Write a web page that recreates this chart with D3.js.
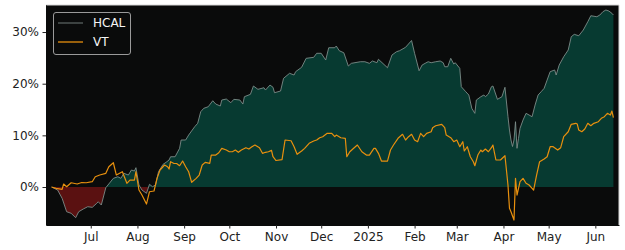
<!DOCTYPE html>
<html>
<head>
<meta charset="utf-8">
<script src="https://cdn.jsdelivr.net/npm/d3@7"></script>
<style>
  html, body { margin: 0; padding: 0; background: #ffffff; }
  svg { display: block; font-family: "DejaVu Sans", sans-serif; }
</style>
</head>
<body>
<div id="chart"></div>
<script>
const hcalDates = ["2024-06-05","2024-06-09","2024-06-12","2024-06-15","2024-06-18","2024-06-21","2024-06-23","2024-06-26","2024-06-29","2024-07-02","2024-07-05","2024-07-06","2024-07-08","2024-07-11","2024-07-16","2024-07-19","2024-07-21","2024-07-23","2024-07-26","2024-07-28","2024-07-30","2024-07-31","2024-08-02","2024-08-04","2024-08-07","2024-08-09","2024-08-11","2024-08-13","2024-08-15","2024-08-18","2024-08-20","2024-08-22","2024-08-23","2024-08-26","2024-08-29","2024-08-30","2024-09-02","2024-09-04","2024-09-08","2024-09-10","2024-09-12","2024-09-14","2024-09-17","2024-09-20","2024-09-22","2024-09-25","2024-09-26","2024-09-29","2024-10-02","2024-10-04","2024-10-08","2024-10-10","2024-10-11","2024-10-15","2024-10-17","2024-10-20","2024-10-24","2024-10-25","2024-10-28","2024-10-30","2024-10-31","2024-11-04","2024-11-06","2024-11-10","2024-11-13","2024-11-14","2024-11-18","2024-11-21","2024-11-26","2024-11-28","2024-12-01","2024-12-04","2024-12-06","2024-12-10","2024-12-11","2024-12-13","2024-12-16","2024-12-19","2024-12-21","2024-12-27","2024-12-30","2025-01-02","2025-01-04","2025-01-07","2025-01-08","2025-01-14","2025-01-17","2025-01-20","2025-01-22","2025-01-26","2025-01-30","2025-02-01","2025-02-04","2025-02-06","2025-02-08","2025-02-10","2025-02-12","2025-02-15","2025-02-18","2025-02-20","2025-02-21","2025-02-23","2025-02-25","2025-02-27","2025-02-28","2025-03-03","2025-03-04","2025-03-07","2025-03-09","2025-03-11","2025-03-13","2025-03-14","2025-03-17","2025-03-19","2025-03-20","2025-03-22","2025-03-24","2025-03-25","2025-03-28","2025-03-31","2025-04-02","2025-04-04","2025-04-05","2025-04-06","2025-04-07","2025-04-08","2025-04-09","2025-04-10","2025-04-11","2025-04-12","2025-04-14","2025-04-16","2025-04-18","2025-04-20","2025-04-22","2025-04-24","2025-04-26","2025-04-28","2025-04-30","2025-05-02","2025-05-05","2025-05-06","2025-05-08","2025-05-11","2025-05-14","2025-05-16","2025-05-18","2025-05-21","2025-05-24","2025-05-27","2025-05-29","2025-06-02","2025-06-04","2025-06-06","2025-06-08","2025-06-10","2025-06-12","2025-06-13"];
const hcalValues = [0.00,-0.58,-2.19,-4.78,-5.09,-5.94,-4.78,-4.26,-3.81,-3.93,-3.15,-2.85,-3.48,-0.13,1.68,1.99,1.68,2.65,2.32,3.29,3.10,3.74,0.39,-0.58,-1.22,0.52,0.06,0.39,2.96,4.39,4.78,5.23,5.86,5.86,7.49,9.10,9.10,10.06,11.67,12.33,14.57,15.23,15.54,16.70,16.06,15.68,16.84,17.03,16.32,16.97,16.84,16.06,17.48,17.94,19.55,18.91,19.22,18.77,19.74,19.30,18.25,18.58,21.04,22.01,21.68,22.32,23.17,24.91,25.10,25.88,25.88,24.58,26.96,26.96,27.29,26.38,25.99,23.42,23.94,24.25,24.25,23.94,24.39,24.06,24.72,23.09,25.55,26.19,26.38,27.04,28.36,25.88,22.51,23.61,23.94,24.25,24.06,24.25,24.39,24.06,23.28,23.28,24.91,23.81,24.06,22.97,19.41,18.44,17.81,15.23,14.26,16.84,17.48,17.81,17.48,18.00,19.41,19.55,16.97,17.48,19.30,13.61,11.03,9.10,7.84,9.10,12.64,7.49,9.43,11.36,12.97,14.26,13.94,13.61,15.87,17.81,18.44,19.10,20.71,22.32,22.65,21.68,23.61,25.22,26.52,29.09,29.55,29.28,30.39,31.99,33.15,32.96,33.29,33.93,34.26,34.06,33.62,33.29];

const vtDates = ["2024-06-05","2024-06-08","2024-06-12","2024-06-13","2024-06-15","2024-06-18","2024-06-22","2024-06-25","2024-06-28","2024-07-02","2024-07-04","2024-07-07","2024-07-11","2024-07-13","2024-07-16","2024-07-18","2024-07-22","2024-07-25","2024-07-27","2024-07-30","2024-07-31","2024-08-02","2024-08-04","2024-08-07","2024-08-09","2024-08-12","2024-08-14","2024-08-16","2024-08-19","2024-08-21","2024-08-22","2024-08-23","2024-08-25","2024-08-27","2024-08-29","2024-08-31","2024-09-02","2024-09-04","2024-09-06","2024-09-09","2024-09-11","2024-09-13","2024-09-15","2024-09-18","2024-09-19","2024-09-22","2024-09-24","2024-09-26","2024-09-29","2024-10-01","2024-10-03","2024-10-05","2024-10-07","2024-10-09","2024-10-12","2024-10-14","2024-10-16","2024-10-18","2024-10-21","2024-10-23","2024-10-25","2024-10-27","2024-10-29","2024-10-30","2024-11-01","2024-11-05","2024-11-07","2024-11-11","2024-11-13","2024-11-15","2024-11-18","2024-11-20","2024-11-23","2024-11-26","2024-11-28","2024-11-30","2024-12-02","2024-12-05","2024-12-08","2024-12-10","2024-12-11","2024-12-14","2024-12-17","2024-12-18","2024-12-20","2024-12-22","2024-12-25","2024-12-28","2024-12-31","2025-01-02","2025-01-05","2025-01-06","2025-01-08","2025-01-10","2025-01-14","2025-01-16","2025-01-18","2025-01-21","2025-01-24","2025-01-26","2025-01-28","2025-01-30","2025-02-01","2025-02-03","2025-02-05","2025-02-07","2025-02-09","2025-02-12","2025-02-13","2025-02-15","2025-02-19","2025-02-21","2025-02-22","2025-02-25","2025-02-27","2025-03-01","2025-03-03","2025-03-05","2025-03-06","2025-03-08","2025-03-10","2025-03-12","2025-03-13","2025-03-15","2025-03-17","2025-03-18","2025-03-20","2025-03-22","2025-03-24","2025-03-25","2025-03-27","2025-03-30","2025-04-02","2025-04-04","2025-04-05","2025-04-06","2025-04-08","2025-04-09","2025-04-10","2025-04-12","2025-04-14","2025-04-16","2025-04-18","2025-04-20","2025-04-21","2025-04-23","2025-04-25","2025-04-28","2025-04-30","2025-05-02","2025-05-04","2025-05-07","2025-05-09","2025-05-11","2025-05-14","2025-05-16","2025-05-19","2025-05-20","2025-05-21","2025-05-23","2025-05-25","2025-05-27","2025-05-29","2025-05-31","2025-06-03","2025-06-05","2025-06-07","2025-06-09","2025-06-11","2025-06-12","2025-06-13"];
const vtValues = [0.00,-0.25,-0.45,0.58,0.06,0.83,0.58,0.87,0.83,1.03,1.99,2.32,2.65,3.93,4.70,2.32,2.96,0.72,1.35,1.35,2.96,-0.58,-1.55,-3.29,-0.91,-0.77,1.68,3.29,4.26,3.93,3.48,4.90,4.59,4.55,4.12,5.03,3.93,2.96,0.91,1.68,2.32,4.26,4.78,4.59,6.19,6.19,6.64,7.49,7.16,6.83,6.83,7.16,6.72,7.16,7.61,7.35,7.80,8.13,7.61,6.52,6.72,6.83,7.10,5.86,5.13,5.32,9.10,8.96,7.80,6.33,6.97,7.49,8.46,8.90,9.10,9.54,9.74,10.39,10.39,9.74,10.06,9.54,9.43,5.86,6.83,7.35,8.13,6.83,6.19,6.19,7.49,7.49,6.52,5.03,5.03,7.16,8.13,9.43,10.20,9.10,9.74,10.20,9.10,8.77,10.39,9.74,10.39,10.70,11.48,11.86,12.14,11.48,10.06,9.54,8.77,9.10,7.80,8.77,6.97,7.80,5.86,4.90,4.12,6.19,7.16,6.83,7.35,6.83,7.61,8.13,5.23,5.23,6.06,0.39,-4.12,-4.78,-6.39,1.68,-1.55,1.03,1.68,0.72,0.39,-0.25,-0.58,2.32,4.90,5.42,5.86,7.80,7.80,7.16,7.61,9.74,10.70,12.14,12.33,12.19,11.03,10.70,11.23,12.33,11.86,12.33,12.64,13.30,13.61,14.26,13.94,14.71,13.41];

const seriesNames = ["HCAL", "VT"];
const tickDates = ["2024-07-01","2024-08-01","2024-09-01","2024-10-01","2024-11-01","2024-12-01","2025-01-01","2025-02-01","2025-03-01","2025-04-01","2025-05-01","2025-06-01"];
const tickLabels = ["Jul","Aug","Sep","Oct","Nov","Dec","2025","Feb","Mar","Apr","May","Jun"];
const yTickValues = [0, 10, 20, 30];
const xDomain = ["2024-06-01T07:00", "2025-06-16T17:00"];
const yDomain = [-7.35, 35.23];

(function () {
const W = 625, H = 250;
const mLeft = 46, mRight = 619, mTop = 5, mBottom = 225;
const parse = d3.utcParse("%Y-%m-%d");
const parseT = d3.utcParse("%Y-%m-%dT%H:%M");

const x = d3.scaleUtc().domain(xDomain.map(parseT)).range([mLeft, mRight]);
const y = d3.scaleLinear().domain(yDomain).range([mBottom, mTop]);

const hcal = hcalDates.map((d, i) => ({ date: parse(d), v: hcalValues[i] }));
const vt = vtDates.map((d, i) => ({ date: parse(d), v: vtValues[i] }));

const svg = d3.select("#chart").append("svg").attr("width", W).attr("height", H);

svg.append("rect").attr("x", mLeft).attr("y", mTop).attr("width", mRight - mLeft).attr("height", mBottom - mTop)
  .attr("fill", "#0a0b0b");

const defs = svg.append("defs");
defs.append("clipPath").attr("id", "above").append("rect")
  .attr("x", mLeft).attr("y", mTop).attr("width", mRight - mLeft).attr("height", y(0) - mTop);
defs.append("clipPath").attr("id", "below").append("rect")
  .attr("x", mLeft).attr("y", y(0)).attr("width", mRight - mLeft).attr("height", mBottom - y(0));

const area = d3.area().x(d => x(d.date)).y0(y(0)).y1(d => y(d.v));
svg.append("path").datum(hcal).attr("d", area).attr("fill", "#073a31").attr("clip-path", "url(#above)");
svg.append("path").datum(hcal).attr("d", area).attr("fill", "#5a1111").attr("clip-path", "url(#below)");

const line = d3.line().x(d => x(d.date)).y(d => y(d.v));
svg.append("path").datum(hcal).attr("d", line).attr("fill", "none")
  .attr("stroke", "#7d8c89").attr("stroke-width", 0.9);
svg.append("path").datum(vt).attr("d", line).attr("fill", "none")
  .attr("stroke", "#e8900e").attr("stroke-width", 1.2).attr("stroke-linejoin", "round");

svg.append("line").attr("x1", mLeft).attr("x2", mRight).attr("y1", mTop).attr("y2", mTop).attr("stroke", "#d8d8d8").attr("stroke-width", 1);
svg.append("line").attr("x1", mRight).attr("x2", mRight).attr("y1", mTop).attr("y2", mBottom).attr("stroke", "#d8d8d8").attr("stroke-width", 1);

const xAxis = d3.axisBottom(x).tickValues(tickDates.map(parse))
  .tickFormat((d, i) => tickLabels[i]).tickSizeInner(3.5).tickSizeOuter(0).tickPadding(3.5);
const gx = svg.append("g").attr("transform", `translate(0,${mBottom})`).call(xAxis);
gx.select(".domain").attr("stroke", "#0a0b0b");
gx.selectAll("text").attr("font-size", 12).attr("font-family", "DejaVu Sans").attr("fill", "#222");
gx.selectAll(".tick line").attr("stroke", "#222");

const yAxis = d3.axisLeft(y).tickValues(yTickValues).tickFormat(d => d + "%")
  .tickSizeInner(3.5).tickSizeOuter(0).tickPadding(3.5);
const gy = svg.append("g").attr("transform", `translate(${mLeft},0)`).call(yAxis);
gy.select(".domain").attr("stroke", "#0a0b0b");
gy.selectAll("text").attr("font-size", 12).attr("font-family", "DejaVu Sans").attr("fill", "#222");
gy.selectAll(".tick line").attr("stroke", "#222");

const lg = svg.append("g");
lg.append("rect").attr("x", 53.5).attr("y", 12.5).attr("width", 77).attr("height", 42).attr("rx", 2.5)
  .attr("fill", "#0a0b0b").attr("stroke", "#9a9a9a").attr("stroke-width", 1);
const legendColors = ["#6e7a78", "#e8900e"];
seriesNames.forEach((n, i) => {
  const yy = 23 + i * 19;
  lg.append("line").attr("x1", 58).attr("x2", 83).attr("y1", yy).attr("y2", yy)
    .attr("stroke", legendColors[i]).attr("stroke-width", i === 0 ? 1 : 1.3);
  lg.append("text").attr("x", 93).attr("y", yy).attr("dy", "0.36em").attr("font-size", 12)
    .attr("fill", "#f4f4f4").text(n);
});
})();
</script>
</body>
</html>
